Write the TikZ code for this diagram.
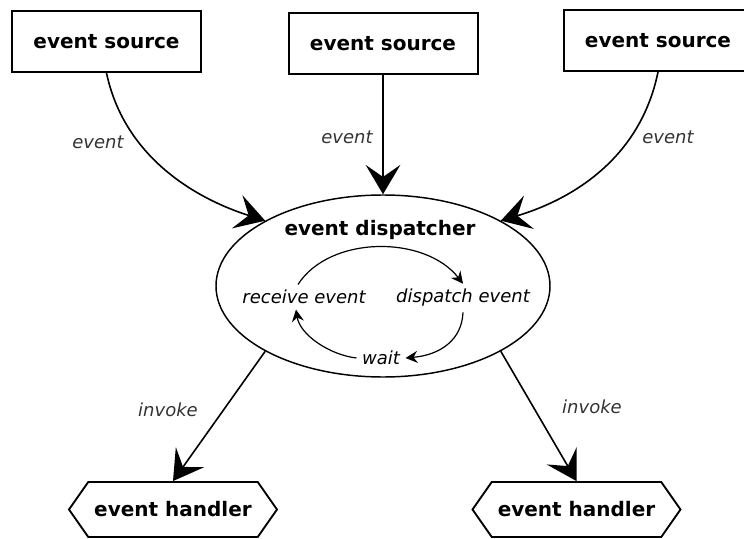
\documentclass[tikz,border=0pt]{standalone}
\usepackage{fontspec}
\setmainfont{DejaVu Sans}
\usetikzlibrary{shapes.geometric,shapes.symbols,arrows.meta}
\definecolor{labelgrey}{gray}{0.2}

\begin{document}
\begin{tikzpicture}[x=0.75pt,y=-0.75pt]

\tikzset{srcnode/.style={draw,line width=1.5pt,minimum width=141.75pt,minimum height=45.75pt,inner sep=0pt,font=\fontsize{15}{18}\selectfont\bfseries},
handlernode/.style={draw,line width=1.4pt,shape=signal,signal to=east and west,signal pointer angle=110,minimum width=156pt,minimum height=41.25pt,inner sep=0pt,font=\fontsize{15}{18}\selectfont\bfseries},
eventarrow/.style={line width=1.2pt,-{Stealth[length=22pt,width=26pt,inset=9pt]}},
cyclearrow/.style={line width=0.9pt,-{Stealth[length=9pt,width=9pt,inset=3pt]}},
edgelabel/.style={font=\fontsize{13.5}{16}\selectfont\itshape,text=labelgrey},
steplabel/.style={font=\fontsize{13.5}{16}\selectfont\itshape,inner sep=4pt}}

\useasboundingbox (0,0) rectangle (744,539);

% event sources
\node[srcnode] (src1) at (106.5,41.5) {event source};
\node[srcnode] (src2) at (383,43.5) {event source};
\node[srcnode] (src3) at (658,40.5) {event source};

% dispatcher
\node[draw,shape=ellipse,line width=1.1pt,minimum width=250.5pt,minimum height=136.5pt,inner sep=0pt] (disp) at (383,286) {};
\node[font=\fontsize{15}{18}\selectfont\bfseries] (dispname) at (380,230) {event dispatcher};
\node[steplabel] (recv) at (304,297) {receive event};
\node[steplabel] (dispatch) at (463,298) {dispatch event};
\node[steplabel] (wait) at (381,358) {wait};

% handlers
\node[handlernode] (hdl1) at (173,509.5) {event handler};
\node[handlernode] (hdl2) at (576.5,509.5) {event handler};

% Edges
\draw[eventarrow] (src1.south) .. controls (125,160) and (200,200) .. (disp.151);
\draw[eventarrow] (src2.south) -- (disp.north);
\draw[eventarrow] (src3.south) .. controls (640,160) and (570,200) .. (disp.29);
\draw[eventarrow] (disp.209) -- (hdl1.north);
\draw[eventarrow] (disp.331) -- (hdl2.north);

% edge labels
\node[edgelabel] (lbl1) at (98,142) {event};
\node[edgelabel] (lbl2) at (347,137) {event};
\node[edgelabel] (lbl3) at (668,137) {event};
\node[edgelabel] (lbl4) at (168,410) {invoke};
\node[edgelabel] (lbl5) at (592,407) {invoke};

% cycle
\draw[cyclearrow] ([xshift=-4.5pt]recv.north) .. controls (330,235) and (425,235) .. (dispatch.north);
\draw[cyclearrow] (dispatch.south) .. controls (462,340) and (440,355) .. (wait.east);
\draw[cyclearrow] (wait.west) .. controls (330,355) and (300,335) .. ([xshift=-6pt]recv.south);

\end{tikzpicture}
\end{document}
